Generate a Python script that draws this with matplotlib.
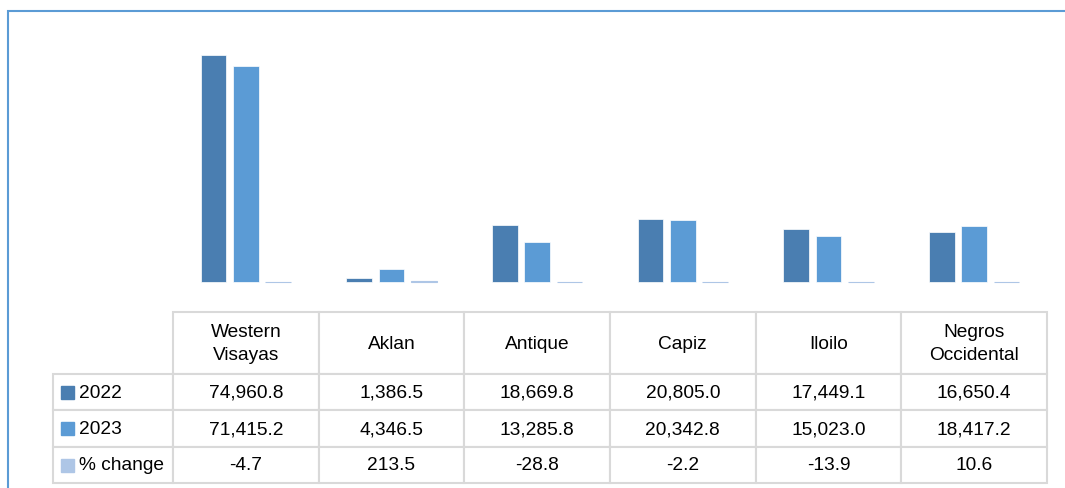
import numpy as np
import matplotlib.pyplot as plt
from matplotlib.table import Table
from matplotlib.patches import Rectangle

plt.rcParams['font.family'] = ['Liberation Sans', 'DejaVu Sans']

# data
regions = ['Western\nVisayas', 'Aklan', 'Antique', 'Capiz', 'Iloilo', 'Negros\nOccidental']
series = ['2022', '2023', '% change']
v2022 = [74960.8, 1386.5, 18669.8, 20805.0, 17449.1, 16650.4]
v2023 = [71415.2, 4346.5, 13285.8, 20342.8, 15023.0, 18417.2]
pct = [-4.7, 213.5, -28.8, -2.2, -13.9, 10.6]
colors = ['#4a7eb1', '#5b9bd5', '#aec6e6']

W, H = 1065, 489
fig = plt.figure(figsize=(W / 100, H / 100), dpi=100)
ax = fig.add_axes([173 / W, (H - 283) / H, (1047 - 173) / W, 242.3 / H])

x = np.arange(len(regions))
for i, vals in enumerate([v2022, v2023, pct]):
    ax.bar(x + (i - 1) * 0.222, vals, 0.175, color=colors[i],
           edgecolor=colors[i] if i == 2 else 'white', linewidth=0.8 if i == 2 else 0.5,
           clip_on=False)

ax.set_xlim(-0.5, 5.5)
ax.set_ylim(0, 80000)
ax.axis('off')

# data table under the bars
ax_h = 242.3
ax_w = 874
tb = Table(ax, bbox=[(53 - 173) / ax_w, (283 - 484) / ax_h, (1047 - 53) / ax_w, (484 - 313) / ax_h])
label_w, col_w = 120, 145.7
row_h = [62, 36.3, 36.3, 36.3]
rows = [[f'{v:,.1f}' for v in v2022], [f'{v:,.1f}' for v in v2023], [f'{v:,.1f}' for v in pct]]

c = tb.add_cell(0, 0, label_w, row_h[0], text='', loc='center')
c.visible_edges = ''
for j, r in enumerate(regions):
    tb.add_cell(0, j + 1, col_w, row_h[0], text=r, loc='center')
for i, s in enumerate(series):
    c = tb.add_cell(i + 1, 0, label_w, row_h[i + 1], text=s, loc='left')
    c.PAD = (79 - 53) / label_w
    for j, val in enumerate(rows[i]):
        tb.add_cell(i + 1, j + 1, col_w, row_h[i + 1], text=val, loc='center')

tb.auto_set_font_size(False)
tb.set_fontsize(13.8)
for cell in tb.get_celld().values():
    cell.set_edgecolor('#d9d9d9')
    cell.set_linewidth(1.5)
    cell.get_text().set_linespacing(1.45)
ax.add_table(tb)

# legend keys in the row label column
centers = [393, 429.5, 466]
for i, cy in enumerate(centers):
    ax.add_patch(Rectangle(((61 - 173) / ax_w, (283 - cy - 6.5) / ax_h), 13 / ax_w, 13 / ax_h,
                           transform=ax.transAxes, color=colors[i], clip_on=False))

# chart area border
fig.add_artist(Rectangle((8 / W, -0.5), 2, 1.5 - 12 / H, transform=fig.transFigure,
                         fill=False, edgecolor='#5b9bd5', linewidth=1.5))

fig.savefig('out.png', dpi=100)
